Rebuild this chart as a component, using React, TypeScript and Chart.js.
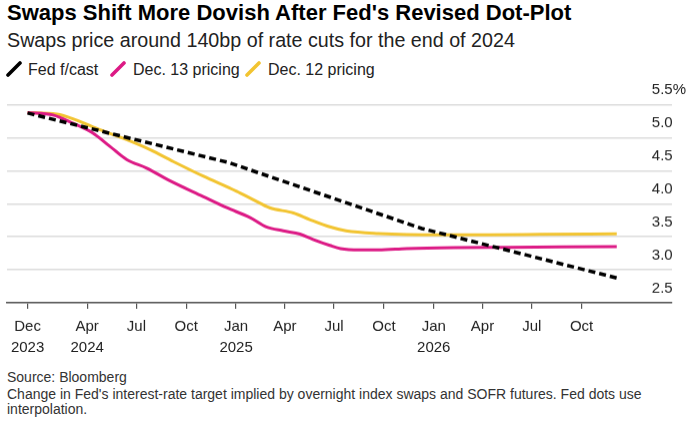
import React, { useEffect, useRef } from "react";
import { Chart, registerables } from "chart.js";

Chart.register(...registerables);

// Days counted from 1 Dec 2023
const tickDays = [12, 122, 213, 305, 397, 487, 578, 670, 762, 852, 943, 1035];
const tickLabels: (string | string[])[] = [
  ["Dec", "2023"], ["Apr", "2024"], "Jul", "Oct", ["Jan", "2025"], "Apr", "Jul", "Oct",
  ["Jan", "2026"], "Apr", "Jul", "Oct",
];
const yTicks = [2.5, 3.0, 3.5, 4.0, 4.5, 5.0, 5.5];

const fedDays = [12, 383, 740, 1100];
const fedValues = [5.375, 4.625, 3.625, 2.875];

const dec13Days = [12, 59, 96, 133, 164, 195, 232, 272, 336, 380, 423, 453, 484, 515, 539, 570, 590, 625, 660, 712, 800, 900, 1000, 1100];
const dec13Values = [5.38, 5.345, 5.22, 5.07, 4.87, 4.67, 4.54, 4.36, 4.11, 3.94, 3.79, 3.65, 3.59, 3.54, 3.46, 3.37, 3.32, 3.30, 3.30, 3.32, 3.335, 3.34, 3.345, 3.35];

const dec12Days = [12, 66, 102, 146, 189, 238, 281, 336, 398, 429, 459, 503, 533, 570, 600, 660, 774, 866, 958, 1100];
const dec12Values = [5.38, 5.36, 5.27, 5.12, 4.99, 4.82, 4.64, 4.42, 4.19, 4.06, 3.94, 3.86, 3.76, 3.65, 3.59, 3.55, 3.53, 3.53, 3.535, 3.545];

const FONT = "'Liberation Sans', Arial, Helvetica, sans-serif";
const PINK = "#dc1a85";
const YELLOW = "#f2c431";

const toPts = (xs: number[], ys: number[]) => xs.map((x, i) => ({ x, y: ys[i] }));

function Marker({ color, left }: { color: string; left: number }) {
  return (
    <svg width={16} height={16} style={{ position: "absolute", left, top: 61 }}>
      <line x1={2} y1={14} x2={14} y2={2} stroke={color} strokeWidth={3.6} strokeLinecap="round" />
    </svg>
  );
}

export default function App() {
  const ref = useRef<HTMLCanvasElement | null>(null);

  useEffect(() => {
    document.body.style.margin = "0";
    if (!ref.current) return;
    const chart = new Chart(ref.current, {
      type: "line",
      data: {
        datasets: [
          {
            label: "Fed f/cast",
            data: toPts(fedDays, fedValues),
            borderColor: "#000",
            borderWidth: 3.5,
            borderDash: [7, 4],
            pointRadius: 0,
            tension: 0,
          },
          {
            label: "Dec. 13 pricing",
            data: toPts(dec13Days, dec13Values),
            borderColor: PINK,
            borderWidth: 3,
            pointRadius: 0,
            cubicInterpolationMode: "monotone",
          },
          {
            label: "Dec. 12 pricing",
            data: toPts(dec12Days, dec12Values),
            borderColor: YELLOW,
            borderWidth: 3,
            pointRadius: 0,
            cubicInterpolationMode: "monotone",
          },
        ],
      },
      options: {
        animation: false,
        responsive: false,
        maintainAspectRatio: false,
        layout: { padding: { left: 7, right: 22, top: 24.7, bottom: 0 } },
        plugins: { legend: { display: false }, tooltip: { enabled: false }, title: { display: false } },
        scales: {
          x: {
            type: "linear",
            min: -26,
            max: 1202,
            afterBuildTicks: (scale: any) => {
              scale.ticks = tickDays.map((v) => ({ value: v }));
            },
            ticks: {
              autoSkip: false,
              maxRotation: 0,
              padding: 8,
              color: "#222",
              font: { family: FONT, size: 15, lineHeight: 1.37 },
              callback: (_v: any, i: number) => tickLabels[i],
            },
            grid: { drawOnChartArea: false, drawTicks: true, tickLength: 6, color: "#555", lineWidth: 1.2 },
            border: { display: true, color: "#555", width: 1.5 },
          },
          y: {
            type: "linear",
            position: "right",
            min: 2.5,
            max: 5.5,
            afterBuildTicks: (scale: any) => {
              scale.ticks = yTicks.map((v) => ({ value: v }));
            },
            afterFit: (scale: any) => {
              scale.width = 0;
            },
            ticks: {
              mirror: true,
              crossAlign: "far",
              padding: 14,
              labelOffset: -14.5,
              color: "#222",
              font: { family: FONT, size: 15 },
              callback: (v: any) => (Number(v) === 5.5 ? "5.5%" : Number(v).toFixed(1)),
            },
            grid: { drawTicks: false, color: "#dcdcdc", lineWidth: 1.5 },
            border: { display: false },
          },
        },
      },
    } as any);
    return () => chart.destroy();
  }, []);

  const text = (style: React.CSSProperties): React.CSSProperties => ({
    position: "absolute",
    fontFamily: FONT,
    whiteSpace: "nowrap",
    margin: 0,
    ...style,
  });

  return (
    <div style={{ position: "fixed", left: 0, top: 0, width: 694, height: 429, background: "#fff", overflow: "hidden" }}>
      <div style={text({ left: 7, top: 0, fontSize: 22, lineHeight: "26px", fontWeight: 700, color: "#000" })}>
        Swaps Shift More Dovish After Fed's Revised Dot-Plot
      </div>
      <div style={text({ left: 7, top: 28, fontSize: 19.7, lineHeight: "24px", color: "#222" })}>
        Swaps price around 140bp of rate cuts for the end of 2024
      </div>
      <Marker color="#000" left={5.5} />
      <div style={text({ left: 28, top: 59.5, fontSize: 16, lineHeight: "20px", color: "#222" })}>Fed f/cast</div>
      <Marker color={PINK} left={110} />
      <div style={text({ left: 133, top: 59.5, fontSize: 16, lineHeight: "20px", color: "#222" })}>Dec. 13 pricing</div>
      <Marker color={YELLOW} left={245} />
      <div style={text({ left: 268, top: 59.5, fontSize: 16, lineHeight: "20px", color: "#222" })}>Dec. 12 pricing</div>
      <canvas
        ref={ref}
        width={694}
        height={285.5}
        style={{ position: "absolute", left: 0, top: 80, width: 694, height: 285.5 }}
      />
      <div style={text({ left: 7, top: 370.3, fontSize: 14, lineHeight: "15px", color: "#333" })}>Source: Bloomberg</div>
      <div style={text({ left: 7, top: 386.7, fontSize: 14, lineHeight: "15px", color: "#333" })}>
        Change in Fed's interest-rate target implied by overnight index swaps and SOFR futures. Fed dots use
        <br />
        interpolation.
      </div>
    </div>
  );
}
